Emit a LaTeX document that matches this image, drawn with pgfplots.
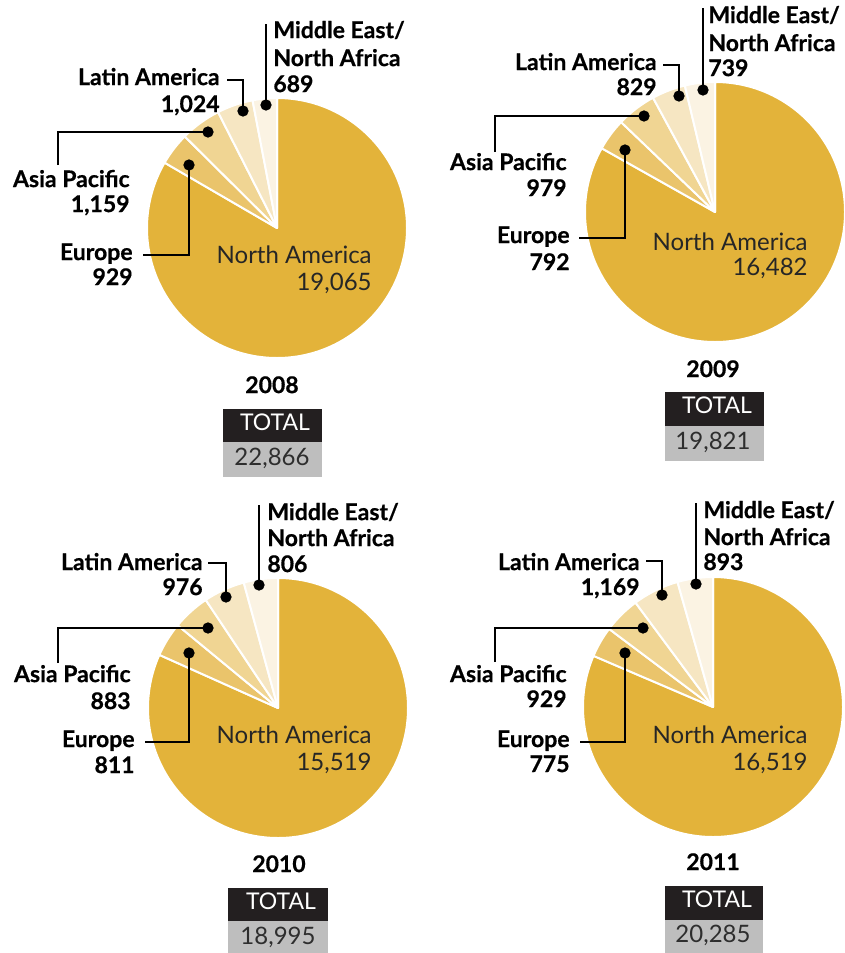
\documentclass[border=0pt]{standalone}
\usepackage{pgfplots}
\usepackage{pgfplotstable}
\pgfplotsset{compat=1.18}
\usepackage{fontspec}
\setmainfont{Lato}[BoldFeatures={FakeBold=0.6}]
\definecolor{naC}{HTML}{E3B33A}
\definecolor{euC}{HTML}{EAC46B}
\definecolor{apC}{HTML}{F0D593}
\definecolor{laC}{HTML}{F6E6C2}
\definecolor{meC}{HTML}{FBF3E3}
\definecolor{boxK}{HTML}{231F20}
\definecolor{boxG}{HTML}{BEBEBE}
\definecolor{numC}{HTML}{2E2E2E}

\pgfplotstableread{
year NA EU AP LA ME total
2008 19065 929 1159 1024 689 22866
2009 16482 792 979 829 739 19821
2010 15519 811 883 976 806 18995
2011 16519 775 929 1169 893 20285
}\piedata

\newcommand\wedgeit[5]{% row col color cx cy
  \pgfplotstablegetelem{#1}{#2}\of\piedata
  \edef\angB{\fpeval{round(\angA-\pgfplotsretval/\T*360,3)}}%
  \edef\tmp{\noexpand\fill[#3, draw=white, line width=1pt, line join=round] (axis cs:#4,#5) -- ++(\angA:65pt) arc[start angle=\angA, end angle=\angB, radius=65pt] -- cycle;}\tmp
  \let\angA\angB}
\newcommand\pie[3]{% row cx cy
  \pgfplotstablegetelem{#1}{total}\of\piedata
  \let\T\pgfplotsretval
  \def\angA{90}%
  \wedgeit{#1}{NA}{naC}{#2}{#3}%
  \wedgeit{#1}{EU}{euC}{#2}{#3}%
  \wedgeit{#1}{AP}{apC}{#2}{#3}%
  \wedgeit{#1}{LA}{laC}{#2}{#3}%
  \wedgeit{#1}{ME}{meC}{#2}{#3}}
\newcommand\lab{\fontsize{11.5}{13}\selectfont\bfseries}
\newcommand\nalab{\fontsize{12}{14}\selectfont}
\tikzset{
  L/.style={anchor=mid east, inner sep=0pt, font=\lab, text=black},
  R/.style={anchor=mid west, inner sep=0pt, font=\lab, text=black},
  N/.style={anchor=mid east, inner sep=0pt, font=\nalab, text=black!85},
}
\begin{document}
\begin{tikzpicture}
\begin{axis}[
  at={(0,0)}, anchor=south west,
  width=422.5pt, height=476.5pt, scale only axis,
  xmin=0, xmax=845, ymin=0, ymax=953, y dir=reverse,
  hide axis, clip=false]

% ---- pies
\pie{0}{277}{228}
\pie{1}{715}{212}
\pie{2}{278}{708}
\pie{3}{713}{707}

% ---- leaders
\addplot[black, line width=0.9pt] coordinates {(266,24) (266,105)};
\addplot[black, line width=0.9pt] coordinates {(227,80) (243,80) (243,111)};
\addplot[black, line width=0.9pt] coordinates {(58,165) (58,132) (208,132)};
\addplot[black, line width=0.9pt] coordinates {(143,255) (189,255) (189,165)};

\addplot[black, line width=0.9pt] coordinates {(703,8) (703,90)};
\addplot[black, line width=0.9pt] coordinates {(663,65) (679,65) (679,96)};
\addplot[black, line width=0.9pt] coordinates {(495,152) (495,116) (644,116)};
\addplot[black, line width=0.9pt] coordinates {(579,238) (625,238) (625,150)};

\addplot[black, line width=0.9pt] coordinates {(259,505) (259,585)};
\addplot[black, line width=0.9pt] coordinates {(208,563) (226,563) (226,597)};
\addplot[black, line width=0.9pt] coordinates {(58,663) (58,628) (208,628)};
\addplot[black, line width=0.9pt] coordinates {(145,742) (189,742) (189,653)};

\addplot[black, line width=0.9pt] coordinates {(696,503) (696,584)};
\addplot[black, line width=0.9pt] coordinates {(646,561) (662,561) (662,595)};
\addplot[black, line width=0.9pt] coordinates {(495,662) (495,628) (643,628)};
\addplot[black, line width=0.9pt] coordinates {(580,742) (625,742) (625,653)};

% ---- dots
\addplot[only marks, mark=*, mark size=2.6pt, black] coordinates {
 (266,105) (243,111) (208,132) (189,165)
 (703,90) (679,96) (644,116) (625,150)
 (259,585) (226,597) (208,628) (189,653)
 (696,584) (662,595) (643,628) (625,653)};

% ---- labels 2008
\node[R] at (axis cs:273,33) {Middle East/};
\node[R] at (axis cs:273,61) {North Africa};
\node[R] at (axis cs:273,87) {689};
\node[L] at (axis cs:220,80) {Latin America};
\node[L] at (axis cs:220,107) {1,024};
\node[L] at (axis cs:130,182) {Asia Pacific};
\node[L] at (axis cs:130,207) {1,159};
\node[L] at (axis cs:133,255) {Europe};
\node[L] at (axis cs:133,280) {929};
\node[N] at (axis cs:372,258) {North America};
\node[N] at (axis cs:372,285) {19,065};
% ---- labels 2009
\node[R] at (axis cs:708,18) {Middle East/};
\node[R] at (axis cs:708,46) {North Africa};
\node[R] at (axis cs:708,71) {739};
\node[L] at (axis cs:657,65) {Latin America};
\node[L] at (axis cs:657,90) {829};
\node[L] at (axis cs:567,165) {Asia Pacific};
\node[L] at (axis cs:567,191) {979};
\node[L] at (axis cs:570,238) {Europe};
\node[L] at (axis cs:570,265) {792};
\node[N] at (axis cs:808,245) {North America};
\node[N] at (axis cs:808,270) {16,482};
% ---- labels 2010
\node[R] at (axis cs:267,515) {Middle East/};
\node[R] at (axis cs:267,541) {North Africa};
\node[R] at (axis cs:267,567) {806};
\node[L] at (axis cs:203,565) {Latin America};
\node[L] at (axis cs:203,590) {976};
\node[L] at (axis cs:131,677) {Asia Pacific};
\node[L] at (axis cs:131,704) {883};
\node[L] at (axis cs:135,742) {Europe};
\node[L] at (axis cs:135,768) {811};
\node[N] at (axis cs:372,738) {North America};
\node[N] at (axis cs:372,765) {15,519};
% ---- labels 2011
\node[R] at (axis cs:703,513) {Middle East/};
\node[R] at (axis cs:703,540) {North Africa};
\node[R] at (axis cs:703,565) {893};
\node[L] at (axis cs:640,565) {Latin America};
\node[L] at (axis cs:640,590) {1,169};
\node[L] at (axis cs:567,677) {Asia Pacific};
\node[L] at (axis cs:567,702) {929};
\node[L] at (axis cs:570,742) {Europe};
\node[L] at (axis cs:570,767) {775};
\node[N] at (axis cs:808,738) {North America};
\node[N] at (axis cs:808,765) {16,519};

% ---- years and totals
\tikzset{yr/.style={font=\fontsize{11.5}{13}\selectfont\bfseries, inner sep=0pt, anchor=mid},
  tt/.style={font=\fontsize{11.5}{13}\selectfont, text=white, inner sep=0pt, anchor=mid},
  tn/.style={font=\fontsize{12}{14}\selectfont, text=numC, inner sep=0pt, anchor=mid}}
\node[yr] at (axis cs:272,388) {2008};
\fill[boxK] (axis cs:223,409) rectangle (axis cs:322,442);
\fill[boxG] (axis cs:223,442) rectangle (axis cs:322,477);
\node[tt] at (axis cs:275,425) {TOTAL};
\node[tn] at (axis cs:272,460) {22,866};

\node[yr] at (axis cs:713,372) {2009};
\fill[boxK] (axis cs:665,392) rectangle (axis cs:764,426);
\fill[boxG] (axis cs:665,426) rectangle (axis cs:764,461);
\node[tt] at (axis cs:717,408) {TOTAL};
\node[tn] at (axis cs:713,444) {19,821};

\node[yr] at (axis cs:279,867) {2010};
\fill[boxK] (axis cs:228,888) rectangle (axis cs:328,921);
\fill[boxG] (axis cs:228,921) rectangle (axis cs:328,953);
\node[tt] at (axis cs:281,904) {TOTAL};
\node[tn] at (axis cs:278,939) {18,995};

\node[yr] at (axis cs:713,865) {2011};
\fill[boxK] (axis cs:665,886) rectangle (axis cs:763,920);
\fill[boxG] (axis cs:665,920) rectangle (axis cs:763,953);
\node[tt] at (axis cs:717,902) {TOTAL};
\node[tn] at (axis cs:713,937) {20,285};
\end{axis}
\pgfresetboundingbox
\path (0,0) rectangle (422.5pt,476.5pt);
\end{tikzpicture}
\end{document}
